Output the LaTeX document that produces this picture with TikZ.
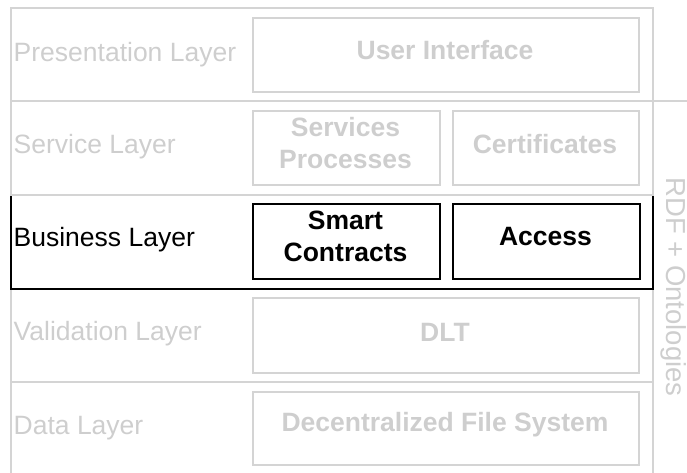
\documentclass[tikz,border=0pt]{standalone}
\usepackage{fontspec}
\setmainfont{Liberation Sans}
\definecolor{lg}{RGB}{212,212,212}
\definecolor{lt}{RGB}{206,206,206}
\begin{document}
\begin{tikzpicture}[x=1pt,y=-1pt,
  frame/.style={rectangle, draw=lg, line width=2pt, inner sep=0pt, anchor=north west},
  darkframe/.style={frame, draw=black},
  txt/.style={inner sep=0pt, font=\fontsize{26.5}{31.8}\selectfont},
  graytxt/.style={txt, text=lt},
  boldgray/.style={graytxt, font=\fontsize{26.5}{31.8}\selectfont\bfseries, align=center},
  boldblack/.style={txt, text=black, font=\fontsize{26.5}{31.8}\selectfont\bfseries, align=center}]
\useasboundingbox (0,0) rectangle (687,472);
\clip (0,0) rectangle (687,472);
% layers
\node[frame, minimum width=50pt, minimum height=380pt] (rdf) at (652,100) {};
\node[frame, minimum width=642pt, minimum height=93pt] (pres) at (10,7) {};
\node[frame, minimum width=642pt, minimum height=93pt] (val) at (10,288) {};
\node[frame, minimum width=642pt, minimum height=94pt] (data) at (10,381) {};
\node[darkframe, minimum width=642pt, minimum height=94pt] (bus) at (10,194) {};
\node[frame, minimum width=642pt, minimum height=94pt] (serv) at (10,100) {};
% inner boxes
\node[frame, minimum width=386pt, minimum height=74pt] (ui) at (252,17) {};
\node[frame, minimum width=187pt, minimum height=74pt] (sp) at (252,110) {};
\node[frame, minimum width=186pt, minimum height=74pt] (cert) at (452,110) {};
\node[darkframe, minimum width=187pt, minimum height=75pt] (sc) at (252,203) {};
\node[darkframe, minimum width=187pt, minimum height=75pt] (acc) at (452,203) {};
\node[frame, minimum width=386pt, minimum height=75pt] (dlt) at (252,297) {};
\node[frame, minimum width=386pt, minimum height=73pt] (dfs) at (252,391) {};
% layer labels
\node[graytxt, anchor=base west] (lpres) at (13.5,61) {Presentation Layer};
\node[graytxt, anchor=base west] (lserv) at (13.5,153.5) {Service Layer};
\node[txt, anchor=base west] (lbus) at (13.5,246) {Business Layer};
\node[graytxt, anchor=base west] (lval) at (13.5,340.7) {Validation Layer};
\node[graytxt, anchor=base west] (ldata) at (13.5,434) {Data Layer};
% box texts
\node[boldgray, anchor=base] (tui) at (445,59.3) {User Interface};
\node[boldgray, anchor=center] (tsp) at (345.5,143) {Services\\Processes};
\node[boldgray, anchor=base] (tcert) at (545,153) {Certificates};
\node[boldblack, anchor=center] (tsc) at (345.5,236.5) {Smart\\Contracts};
\node[boldblack, anchor=base] (tacc) at (545.5,245) {Access};
\node[boldgray, anchor=base] (tdlt) at (445,341.7) {DLT};
\node[boldgray, anchor=base] (tdfs) at (445,431.7) {Decentralized File System};
% side label
\node[graytxt, font=\fontsize{27.5}{33}\selectfont, rotate=-90, anchor=base] (trdf) at (666.5,287) {RDF + Ontologies};
\end{tikzpicture}
\end{document}
